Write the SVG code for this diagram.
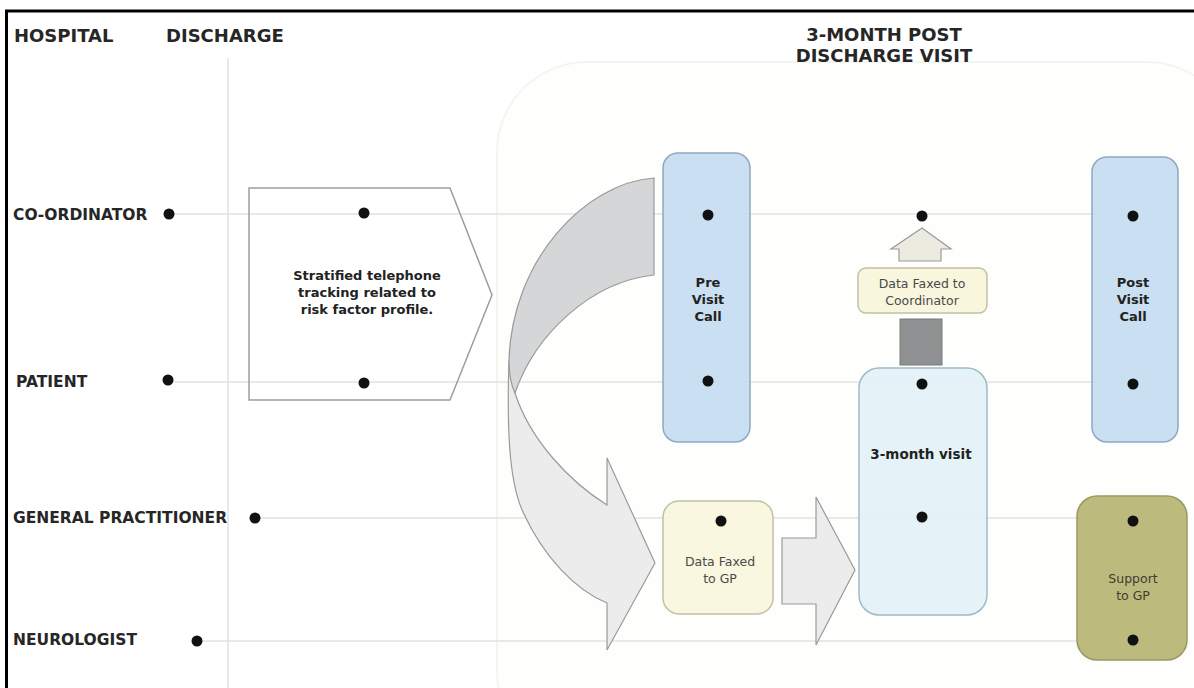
<svg xmlns="http://www.w3.org/2000/svg" width="1194" height="688" viewBox="0 0 1194 688">
<style>
.hdr{font-family:"DejaVu Sans",Verdana,sans-serif;font-weight:bold;font-size:18px;fill:#262626}
.lane{font-family:"DejaVu Sans",Verdana,sans-serif;font-weight:bold;font-size:15.5px;fill:#262626}
.bl{font-family:"DejaVu Sans",Verdana,sans-serif;font-weight:bold;font-size:13px;fill:#222;text-anchor:middle}
.rg{font-family:"DejaVu Sans",Verdana,sans-serif;font-size:12.5px;fill:#4a4a4a;text-anchor:middle}
.dot{fill:#111}
.ln{stroke:#e2e2e2;stroke-width:1.5;fill:none}
.arr{stroke:#9a9a9a;stroke-width:1.2}
</style>
<rect x="0" y="0" width="1194" height="688" fill="#fff"/>
<rect x="497" y="62" width="740" height="700" rx="90" fill="#fefefd" stroke="#f5f5f0" stroke-width="2"/>
<line x1="228" y1="58" x2="228" y2="688" class="ln"/>
<line x1="5" y1="11" x2="1194" y2="11" stroke="#000" stroke-width="3"/>
<line x1="6.5" y1="10" x2="6.5" y2="688" stroke="#000" stroke-width="3"/>

<g id="headers">
<text x="14" y="42" class="hdr">HOSPITAL</text>
<text x="166" y="42" class="hdr">DISCHARGE</text>
<text x="884" y="41" class="hdr" text-anchor="middle">3-MONTH POST</text>
<text x="884" y="62" class="hdr" text-anchor="middle">DISCHARGE VISIT</text>
</g>

<g id="connectors">
<line x1="169" y1="214" x2="1133" y2="214" class="ln"/>
<line x1="168" y1="382" x2="1133" y2="382" class="ln"/>
<line x1="255" y1="518" x2="1133" y2="518" class="ln"/>
<line x1="197" y1="641" x2="1133" y2="641" class="ln"/>
<path id="curve-front" class="arr" fill="#ececed" d="M509,360 C507,420 508,480 523,512 C543,556 575,590 607,603 L607,650 L655,563 L607,458 L607,505 C570,482 530,440 515,393 Z"/>
<path id="curve-back" class="arr" fill="#d5d6d8" d="M654,178 L654,275 C590,282 535,335 515,393 C511,385 509,375 509,360 C512,260 585,183 654,178 Z"/>
<path id="arrow-gp-visit" class="arr" fill="#ececed" d="M782,538 L816,538 L816,497 L855,570 L816,645 L816,604 L782,604 Z"/>
<rect id="fax-bar" x="900" y="319" width="42" height="46" fill="#8f9091" stroke="#7a7a7a"/>
<path id="arrow-up" class="arr" fill="#ecebe0" d="M922,228 L951,249 L941,249 L941,261 L899,261 L899,249 L891,249 Z"/>
</g>

<g id="lane-coordinator"><text x="13" y="220" class="lane">CO-ORDINATOR</text><circle cx="169" cy="214" r="5.5" class="dot"/></g>
<g id="lane-patient"><text x="16" y="387" class="lane">PATIENT</text><circle cx="168" cy="380" r="5.5" class="dot"/></g>
<g id="lane-gp"><text x="13" y="523" class="lane">GENERAL PRACTITIONER</text><circle cx="255" cy="518" r="5.5" class="dot"/></g>
<g id="lane-neurologist"><text x="13" y="645" class="lane">NEUROLOGIST</text><circle cx="197" cy="641" r="5.5" class="dot"/></g>

<g id="tracking">
<path d="M249,188 L450,188 L492,295 L450,400 L249,400 Z" fill="none" stroke="#9d9d9d" stroke-width="1.5"/>
<circle cx="364" cy="213" r="5.5" class="dot"/>
<circle cx="364" cy="383" r="5.5" class="dot"/>
<text x="367" y="280" class="bl">Stratified telephone</text>
<text x="367" y="297" class="bl">tracking related to</text>
<text x="367" y="314" class="bl">risk factor profile.</text>
</g>

<g id="pre-visit-call">
<rect x="663" y="153" width="87" height="289" rx="15" fill="#c4dbf0" fill-opacity="0.9" stroke="#8fa9c2" stroke-width="1.5"/>
<circle cx="708" cy="215" r="5.5" class="dot"/>
<circle cx="708" cy="381" r="5.5" class="dot"/>
<text x="708" y="287" class="bl">Pre</text>
<text x="708" y="304" class="bl">Visit</text>
<text x="708" y="321" class="bl">Call</text>
</g>

<g id="data-faxed-gp">
<rect x="663" y="501" width="110" height="113" rx="16" fill="#f8f6dc" fill-opacity="0.9" stroke="#c2c0a4" stroke-width="1.5"/>
<circle cx="721" cy="521" r="5.5" class="dot"/>
<text x="720" y="566" class="rg">Data Faxed</text>
<text x="720" y="583" class="rg">to GP</text>
</g>

<g id="data-faxed-coordinator">
<rect x="858" y="268" width="129" height="45" rx="8" fill="#f8f6dc" stroke="#c2c0a4" stroke-width="1.5"/>
<text x="922" y="288" class="rg">Data Faxed to</text>
<text x="922" y="305" class="rg">Coordinator</text>
<circle cx="922" cy="216" r="5.5" class="dot"/>
</g>

<g id="three-month-visit">
<rect x="859" y="368" width="128" height="247" rx="20" fill="#e2f1f6" fill-opacity="0.9" stroke="#9dbcc6" stroke-width="1.5"/>
<circle cx="922" cy="384" r="5.5" class="dot"/>
<circle cx="922" cy="517" r="5.5" class="dot"/>
<text x="921" y="459" class="bl" style="font-size:13.5px">3-month visit</text>
</g>

<g id="post-visit-call">
<rect x="1092" y="157" width="86" height="285" rx="15" fill="#c4dbf0" fill-opacity="0.9" stroke="#8fa9c2" stroke-width="1.5"/>
<circle cx="1133" cy="216" r="5.5" class="dot"/>
<circle cx="1133" cy="384" r="5.5" class="dot"/>
<text x="1133" y="287" class="bl">Post</text>
<text x="1133" y="304" class="bl">Visit</text>
<text x="1133" y="321" class="bl">Call</text>
</g>

<g id="support-gp">
<rect x="1077" y="496" width="110" height="164" rx="20" fill="#bcba7c" stroke="#9a9862" stroke-width="1.5"/>
<circle cx="1133" cy="521" r="5.5" class="dot"/>
<circle cx="1133" cy="640" r="5.5" class="dot"/>
<text x="1133" y="583" class="rg" style="fill:#3e3e30">Support</text>
<text x="1133" y="600" class="rg" style="fill:#3e3e30">to GP</text>
</g>
</svg>
